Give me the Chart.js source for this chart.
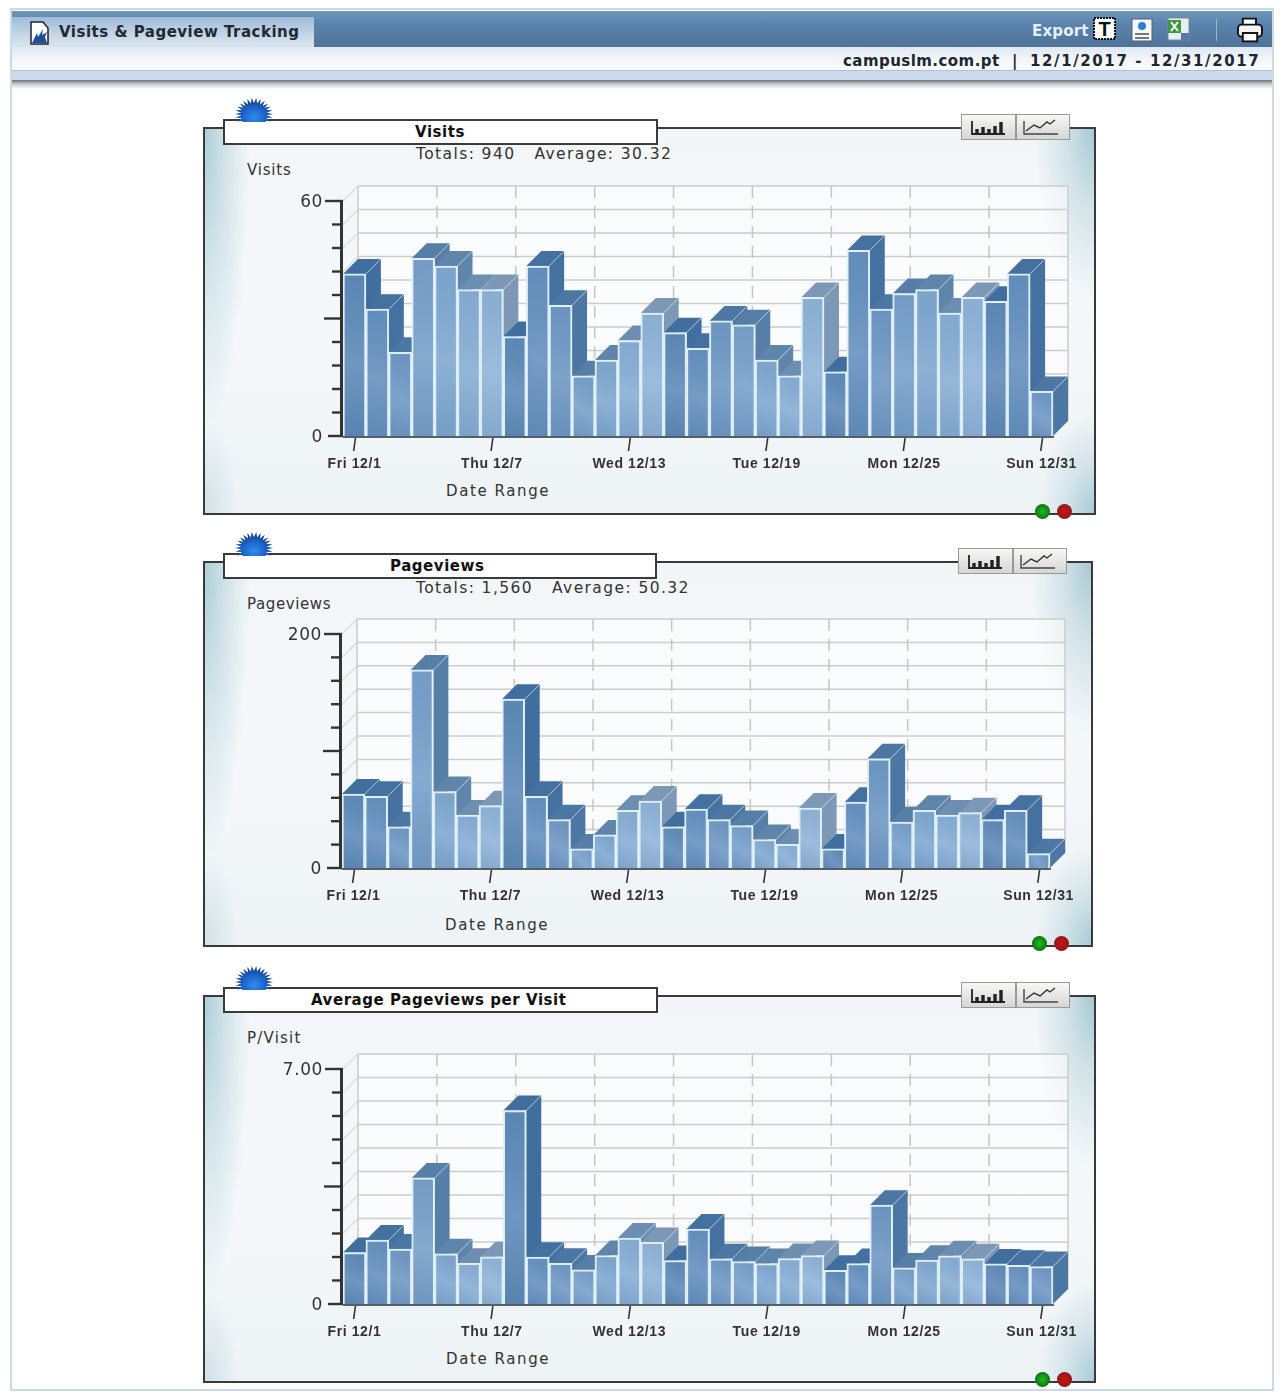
<!DOCTYPE html>
<html><head><meta charset="utf-8">
<script src="https://cdn.jsdelivr.net/npm/chart.js@4"></script>
<style>
html,body{margin:0;padding:0;background:#fff;}
#page{position:relative;width:1283px;height:1395px;overflow:hidden;background:#fff;font-family:"DejaVu Sans",sans-serif;filter:blur(.45px);}
#page div,#page svg,#page canvas{position:absolute;}
.t{white-space:nowrap;color:#333;}
.panel{box-sizing:border-box;border:2px solid #3a3a3a;
 background:
 radial-gradient(ellipse 45px 300px at 0 0,#aecfd8 0,rgba(174,207,216,.5) 45%,rgba(174,207,216,0) 100%),
 radial-gradient(ellipse 60px 170px at 100% 0,#a8c9d3 0,rgba(168,201,211,.45) 45%,rgba(168,201,211,0) 100%),
 radial-gradient(ellipse 55px 100px at 100% 100%,#a9cbd6 0,rgba(169,203,214,.4) 50%,rgba(169,203,214,0) 100%),
 radial-gradient(ellipse 35px 90px at 0 100%,#cfe1e7 0,rgba(207,225,231,0) 100%),
 linear-gradient(180deg,#f2f6f8,#f4f8fa 50%,#eef3f6);}
.titlebox{box-sizing:border-box;background:#fff;border:2px solid #3a3a3a;}
.btns{box-sizing:border-box;border:1px solid #999;background:linear-gradient(180deg,#f7f7f5,#d6d6d2);}
.dot{width:15px;height:15px;border-radius:50%;}
</style></head>
<body><div id="page"></div>
<script>
const dayLabels = ["Fri 12/1","Sat 12/2","Sun 12/3","Mon 12/4","Tue 12/5","Wed 12/6","Thu 12/7","Fri 12/8","Sat 12/9","Sun 12/10","Mon 12/11","Tue 12/12","Wed 12/13","Thu 12/14","Fri 12/15","Sat 12/16","Sun 12/17","Mon 12/18","Tue 12/19","Wed 12/20","Thu 12/21","Fri 12/22","Sat 12/23","Sun 12/24","Mon 12/25","Tue 12/26","Wed 12/27","Thu 12/28","Fri 12/29","Sat 12/30","Sun 12/31"];
const visits = [41,32,21,45,43,37,37,25,43,33,15,19,24,31,26,22,29,28,19,15,35,16,47,32,36,37,31,35,34,41,11];
const pageviews = [62,60,34,168,64,44,52,143,60,40,15,27,48,56,34,49,40,35,23,19,50,15,55,92,38,48,44,46,40,48,11];
const perVisit = [1.49,1.86,1.59,3.71,1.45,1.17,1.36,5.72,1.35,1.17,0.97,1.40,1.92,1.79,1.25,2.19,1.30,1.22,1.16,1.31,1.40,0.96,1.16,2.90,1.03,1.26,1.39,1.30,1.15,1.11,1.07];
const visitsTicks = ["0","60"];
const pageviewsTicks = ["0","200"];
const perVisitTicks = ["0","7.00"];
const frontShades = ["#5f8bb9","#6691bf","#6f99c5","#78a1cb","#80a9d1","#88afd5","#90b5d9"];
const faceShades = ["#406e9f","#44719f","#4c77a4","#567fa8","#5f85ab","#6c8eb1","#7d98b6"];

const DEPTH = 15, LIFT = 1.5;
const panels = [
 {top:127,h:388,w:893,title:"Visits",titleX:415,sub:"Totals: 940&nbsp;&nbsp;&nbsp;Average: 30.32",axisTitle:"Visits",axisLs:.8,data:visits,ticks:visitsTicks,max:60},
 {top:561,h:386,w:890,title:"Pageviews",titleX:390,sub:"Totals: 1,560&nbsp;&nbsp;&nbsp;Average: 50.32",axisTitle:"Pageviews",axisLs:.6,data:pageviews,ticks:pageviewsTicks,max:200},
 {top:995,h:388,w:893,title:"Average Pageviews per Visit",titleX:311,sub:"",axisTitle:"P/Visit",axisLs:1.2,data:perVisit,ticks:perVisitTicks,max:7}
];
const page = document.getElementById('page');
function add(html){page.insertAdjacentHTML('beforeend',html);}

/* page chrome */
add(`<div style="left:10px;top:8px;width:1264px;height:1383px;border:2px solid #c9dbe9;box-sizing:border-box"></div>
<div style="left:12px;top:11px;width:1260px;height:36px;background:linear-gradient(180deg,#6f97bd,#5b84ad 35%,#4e7299)"></div>
<div style="left:12px;top:17px;width:302px;height:30px;background:linear-gradient(180deg,#9fbcd7,#c5d6e7 60%,#dae5f0)"></div>
<div style="left:12px;top:47px;width:1260px;height:23px;background:linear-gradient(180deg,#dfe8f1,#f3f6f9 55%,#fafbfc)"></div>
<div style="left:12px;top:70px;width:1260px;height:1px;background:#a9c2d9"></div>
<div style="left:12px;top:71px;width:1260px;height:9px;background:#cbdbed"></div>
<div style="left:12px;top:80px;width:1260px;height:9px;background:linear-gradient(180deg,#6d6f72,#c9cbcd 45%,#fff)"></div>
<svg style="left:29px;top:20px" width="22" height="26" viewBox="0 0 22 26"><path d="M2 2h12l5 6v16H2z" fill="#fff" stroke="#222" stroke-width="1.5"/><path d="M3 23 L8 13 L9 17 L14 9 L13 15 L18 12 L16 17 L18 23z" fill="#1f4f9c"/></svg>
<div class="t" style="left:59px;top:23px;font-weight:bold;font-size:15px;letter-spacing:.5px;color:#1f2a33">Visits &amp; Pageview Tracking</div>
<div class="t" style="left:1032px;top:22px;font-weight:bold;font-size:15px;letter-spacing:.2px;color:#e6eef6">Export</div>
<svg style="left:1093px;top:16px" width="172" height="28" viewBox="0 0 172 28">
 <rect x="1" y="2" width="21" height="21" fill="#fff" stroke="#111" stroke-width="2" stroke-dasharray="2 1"/><text x="11.5" y="20" text-anchor="middle" font-family="Liberation Sans" font-weight="bold" font-size="20" fill="#111">T</text>
 <rect x="39" y="3" width="20" height="22" fill="#f4f7fb" stroke="#55606c"/><circle cx="49" cy="10" r="4" fill="#2f7fd0"/><rect x="42" y="17" width="14" height="2" fill="#777"/><rect x="42" y="21" width="14" height="2" fill="#777"/>
 <rect x="75" y="2" width="21" height="22" fill="#e8eef2" stroke="#7d8a99"/><rect x="75" y="4" width="13" height="13" fill="#3c9a3c"/><path d="M78 6l7 9M85 6l-7 9" stroke="#fff" stroke-width="2"/><rect x="88" y="17" width="8" height="7" fill="#5a76a8"/>
 <rect x="123" y="3" width="1" height="22" fill="#9db6cf"/>
 <g transform="translate(157,14) scale(1.2) translate(-151,-13.5)"><path d="M145 9V4h11v5" fill="#fff" stroke="#111" stroke-width="1.6"/><rect x="141" y="9" width="20" height="10" rx="3" fill="#f4f4f4" stroke="#111" stroke-width="1.6"/><rect x="145" y="16" width="12" height="7" fill="#fff" stroke="#111" stroke-width="1.6"/></g>
</svg>
<div class="t" style="left:843px;top:52px;font-weight:bold;font-size:15px;letter-spacing:.45px;color:#1d2730">campuslm.com.pt</div>
<div class="t" style="left:1012px;top:52px;font-weight:bold;font-size:15px;color:#1d2730">|</div>
<div class="t" style="left:1030px;top:52px;font-weight:bold;font-size:15px;letter-spacing:1.6px;color:#1d2730">12/1/2017 - 12/31/2017</div>`);

function starPath(){
  let d='';
  const spikes=26;
  for(let i=0;i<spikes*2;i++){
    const a=Math.PI*i/spikes, r=i%2?0.68:1;
    d+=(i?'L':'M')+(19+19*r*Math.cos(a)).toFixed(1)+' '+(16+16*r*Math.sin(a)).toFixed(1)+' ';
  }
  return d+'Z';
}

panels.forEach((p,idx)=>{
  const titleBoxW = p.w===890?434:435;
  add(`<div class="panel" style="left:203px;top:${p.top}px;width:${p.w}px;height:${p.h}px"></div>
  <div class="titlebox" style="left:223px;top:${p.top-8}px;width:${titleBoxW}px;height:26px"></div>
  <svg style="left:235px;top:${p.top-29}px" width="38" height="24" viewBox="0 0 38 24"><defs><radialGradient id="sg${idx}" cx="50%" cy="60%" r="55%"><stop offset="0" stop-color="#2f8cf0"/><stop offset=".65" stop-color="#1a5cc0"/><stop offset="1" stop-color="#143a78"/></radialGradient></defs><path d="${starPath()}" fill="url(#sg${idx})"/></svg>
  <div class="t" style="left:${p.titleX}px;top:${p.top-4}px;font-weight:bold;font-size:15px;letter-spacing:.55px;color:#111">${p.title}</div>
  <div class="t" style="left:416px;top:${p.top+18}px;font-size:15.5px;letter-spacing:1.4px;color:#333">${p.sub}</div>
  <div class="t" style="left:247px;top:${p.top+34}px;font-size:15px;letter-spacing:${p.axisLs}px;color:#333">${p.axisTitle}</div>
  <div class="t" style="left:${p.w===890?445:446}px;top:${p.top+355}px;font-size:15px;letter-spacing:1.6px;color:#333">Date Range</div>
  <div class="btns" style="left:${203+p.w-135}px;top:${p.top-13}px;width:55px;height:26px"></div>
  <div class="btns" style="left:${203+p.w-80}px;top:${p.top-13}px;width:54px;height:26px"></div>
  <svg style="left:${203+p.w-135}px;top:${p.top-13}px" width="109" height="26" viewBox="0 0 109 26">
   <path d="M11 7v13h33" fill="none" stroke="#222" stroke-width="1.8"/><path d="M16 19v-4M22 19v-6M28 19v-4M34 19v-7M40 19v-11" stroke="#222" stroke-width="3.4"/>
   <path d="M63 7v13h34" fill="none" stroke="#444" stroke-width="1.4"/><path d="M65 17l8-6 6 3 7-6 3 2 5-4" fill="none" stroke="#333" stroke-width="1.4"/>
  </svg>
  <div class="dot" style="left:${203+p.w-61}px;top:${p.top+p.h-11}px;background:radial-gradient(circle at 50% 50%,#1fc01f,#0d6e12 75%,#2e5a35)"></div>
  <div class="dot" style="left:${203+p.w-39}px;top:${p.top+p.h-11}px;background:radial-gradient(circle at 50% 50%,#cf1414,#8a1a1a 75%,#6b3535)"></div>`);
});

/* the 3-D look: faces taken from each bar element's own scale position */
const threeD = {
  id:'threeD',
  beforeDraw(chart){ chart.ctx.letterSpacing='.6px'; },
  beforeDatasetsDraw(chart){
    const {ctx,chartArea:a,scales:{y}} = chart;
    const backL=a.left+DEPTH, backR=a.right+DEPTH;
    const tops=y.ticks.map(t=>y.getPixelForValue(t.value));
    ctx.save();
    ctx.fillStyle='rgba(255,255,255,.5)';
    ctx.fillRect(backL,a.top-DEPTH,backR-backL,a.bottom-a.top);
    ctx.lineWidth=1.5;
    ctx.strokeStyle='#dedfdc';
    tops.forEach(py=>{ctx.beginPath();ctx.moveTo(a.left,py);ctx.lineTo(backL,py-DEPTH);ctx.stroke();});
    ctx.strokeStyle='#cdcdc8';
    tops.forEach(py=>{ctx.beginPath();ctx.moveTo(backL,py-DEPTH);ctx.lineTo(backR,py-DEPTH);ctx.stroke();});
    ctx.beginPath();ctx.moveTo(backL,a.top-DEPTH);ctx.lineTo(backL,a.bottom-DEPTH);ctx.moveTo(backR,a.top-DEPTH);ctx.lineTo(backR,a.bottom-DEPTH);ctx.stroke();
    ctx.setLineDash([12,8]);ctx.strokeStyle='#c6c6c2';
    for(let k=1;k<9;k++){
      const px=backL+(backR-backL)*k/9;
      ctx.beginPath();ctx.moveTo(px,a.top-DEPTH);ctx.lineTo(px,a.bottom-DEPTH);ctx.stroke();
    }
    ctx.restore();
  },
  beforeDatasetDraw(chart,args){
    const ctx=chart.ctx;
    args.meta.data.forEach((bar,i)=>{
      const s=i%7, w=bar.width, L=bar.x-w/2, R=bar.x+w/2, T=bar.y-LIFT, B=bar.base;
      ctx.save();
      ctx.fillStyle=faceShades[s];
      ctx.beginPath();ctx.moveTo(R,T);ctx.lineTo(R+DEPTH,T-DEPTH);ctx.lineTo(R+DEPTH,B-DEPTH);ctx.lineTo(R,B);ctx.closePath();ctx.fill();
      ctx.beginPath();ctx.moveTo(L,T);ctx.lineTo(L+DEPTH,T-DEPTH);ctx.lineTo(R+DEPTH,T-DEPTH);ctx.lineTo(R,T);ctx.closePath();ctx.fill();
      ctx.strokeStyle='rgba(215,230,240,.6)';ctx.lineWidth=1;
      ctx.beginPath();ctx.moveTo(R,T);ctx.lineTo(R+DEPTH,T-DEPTH);ctx.stroke();
      ctx.restore();
      bar.y-=LIFT; bar.draw(ctx); bar.y+=LIFT;
      ctx.save();
      const g=ctx.createLinearGradient(L,B,R,T);
      g.addColorStop(0,'rgba(20,50,90,.10)');g.addColorStop(.45,'rgba(255,255,255,.10)');g.addColorStop(1,'rgba(20,50,90,.05)');
      ctx.fillStyle=g;ctx.fillRect(L+2,T+2,w-4,B-T-2);
      ctx.restore();
    });
    return false;
  },
  afterDatasetsDraw(chart){
    const {ctx,chartArea:a,scales:{x,y}} = chart;
    ctx.save();
    ctx.strokeStyle='#333';
    ctx.lineWidth=3;
    ctx.beginPath();ctx.moveTo(a.left-1.5,a.top-1);ctx.lineTo(a.left-1.5,a.bottom+1);ctx.stroke();
    const n=y.ticks.length-1;
    y.ticks.forEach((t,i)=>{
      const py=y.getPixelForValue(t.value);
      const len = i===0?15:(i===n?18:(i===5?19:11));
      ctx.lineWidth=2.4;
      ctx.beginPath();ctx.moveTo(a.left-len,py);ctx.lineTo(a.left,py);ctx.stroke();
    });
    ctx.strokeStyle='#55606a';ctx.lineWidth=2;
    ctx.beginPath();ctx.moveTo(a.left,a.bottom+1);ctx.lineTo(a.right+1,a.bottom+1);ctx.stroke();
    ctx.strokeStyle='#333';ctx.lineWidth=1.6;
    x.ticks.forEach(t=>{
      if(!t.label) return;
      const px=x.getPixelForValue(t.value);
      ctx.beginPath();ctx.moveTo(px+1,a.bottom+2);ctx.lineTo(px-.8,a.bottom+15);ctx.stroke();
    });
    ctx.restore();
  }
};

panels.forEach(p=>{
  const canvasW=p.w, canvasH=p.h;
  const c=document.createElement('canvas');
  c.width=canvasW;c.height=canvasH;
  c.style.cssText=`left:203px;top:${p.top}px;width:${canvasW}px;height:${canvasH}px`;
  page.appendChild(c);
  const plotTop = p.max===200?73:74, plotH = p.max===200?234:235;
  const xH=40;
  new Chart(c,{
    type:'bar',
    data:{labels:dayLabels,datasets:[{data:p.data,
      backgroundColor:ctx=>frontShades[ctx.dataIndex%7],
      borderColor:'#e0eef6',borderWidth:2,borderSkipped:'bottom',
      barPercentage:1,categoryPercentage:1}]},
    options:{
      responsive:false,animation:false,devicePixelRatio:1,
      layout:{padding:{left:0,top:plotTop,right:p.w-(p.w===890?847:850),bottom:canvasH-plotTop-plotH-xH}},
      plugins:{legend:{display:false},tooltip:{enabled:false},title:{display:false}},
      scales:{
        x:{grid:{display:false,drawTicks:false},border:{display:false},
           afterFit(s){s.height=xH;},
           ticks:{autoSkip:false,maxRotation:0,minRotation:0,padding:20,color:'#333',
             font:{family:'"Liberation Sans"',size:14,weight:'bold'},
             callback(v,i){return i%6===0?this.getLabelForValue(v):'';}}},
        y:{min:0,max:p.max,grid:{display:false,drawTicks:false},border:{display:false},
           afterFit(s){s.width=p.w===890?139:140;},
           ticks:{count:11,padding:20,labelOffset:1.5,color:'#333',
             font:{family:'"DejaVu Sans"',size:17},
             callback(v,i,all){return i===0?p.ticks[0]:(i===all.length-1?p.ticks[1]:'');}}}
      }
    },
    plugins:[threeD]
  });
});
</script></body></html>
